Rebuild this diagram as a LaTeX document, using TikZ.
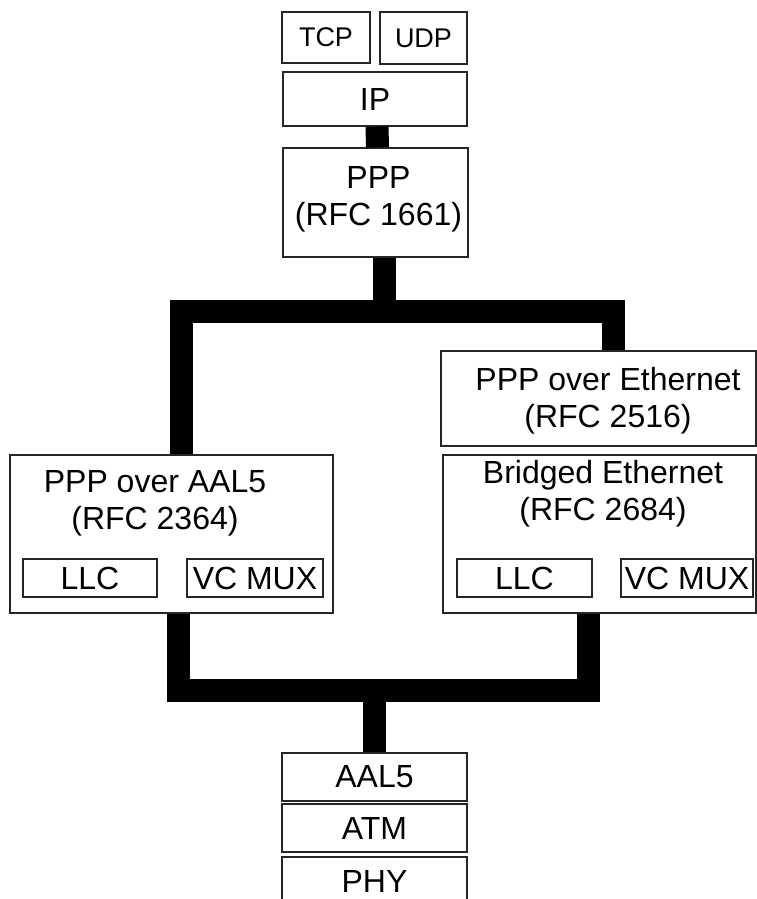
\documentclass[tikz,border=0pt]{standalone}
\usepackage{fontspec}
\setmainfont{Liberation Sans}
\tikzset{
	layer/.style={draw=black!85, line width=1.2pt, inner sep=0pt, align=center, font=\fontsize{32}{37}\selectfont},
	thin layer/.style={layer, font=\fontsize{27}{32}\selectfont},
	caption/.style={inner sep=0pt, align=center, font=\fontsize{32}{37}\selectfont},
	bus/.style={line width=23pt, line join=miter}
}
\begin{document}
\begin{tikzpicture}[x=1pt, y=-1pt]
	\useasboundingbox (0, 0) rectangle (757, 899);
	\node[thin layer, minimum width=88pt, minimum height=51pt] (tcp) at (326, 37.5) {TCP};
	\node[thin layer, minimum width=87pt, minimum height=52pt] (udp) at (423.5, 38) {UDP};
	\node[layer, minimum width=184pt, minimum height=54pt] (ip) at (375, 99) {IP};
	\node[layer, minimum width=185pt, minimum height=109pt] (ppp) at (375.5, 202.5) {};
	\node[caption] (ppptext) at (378.5, 199.5) {PPP\\(RFC 1661)};
	\node[layer, minimum width=315pt, minimum height=95pt] (pppoe) at (598.5, 398.5) {};
	\node[caption] (pppoetext) at (608, 400.5) {PPP over Ethernet\\(RFC 2516)};
	\node[layer, minimum width=323pt, minimum height=158pt] (pppoa) at (171.5, 534) {};
	\node[caption] (pppoatext) at (155, 503) {PPP over AAL5\\(RFC 2364)};
	\node[layer, minimum width=313pt, minimum height=158pt] (bridged) at (599.5, 534) {};
	\node[caption] (bridgedtext) at (603, 493.5) {Bridged Ethernet\\(RFC 2684)};
	\node[layer, minimum width=134pt, minimum height=38pt] (llcL) at (90, 578) {LLC};
	\node[layer, minimum width=136pt, minimum height=38pt] (vcmuxL) at (255, 578) {VC MUX};
	\node[layer, minimum width=135pt, minimum height=38pt] (llcR) at (524.5, 578) {LLC};
	\node[layer, minimum width=132pt, minimum height=38pt] (vcmuxR) at (687, 578) {VC MUX};
	\node[layer, minimum width=185pt, minimum height=48pt] (aal5) at (374.5, 777) {AAL5};
	\node[layer, minimum width=185pt, minimum height=48pt] (atm) at (374.5, 828) {ATM};
	\node[layer, minimum width=185pt, minimum height=48pt] (phy) at (374.5, 881) {PHY};
	\coordinate (upL) at (181.5, 311.5);
	\coordinate (upC) at (384, 311.5);
	\coordinate (upR) at (613, 311.5);
	\coordinate (dnL) at (178, 690.5);
	\coordinate (dnC) at (374, 690.5);
	\coordinate (dnR) at (588, 690.5);
	\draw[bus] ([xshift=2pt]ip.south) -- ([xshift=2pt]ppp.north);
	\draw[bus] (upC |- ppp.south) -- (upC);
	\draw[bus] (upL |- pppoa.north) -- (upL) -- (upR) -- (upR |- pppoe.north);
	\draw[bus] (dnL |- pppoa.south) -- (dnL) -- (dnR) -- (dnR |- bridged.south);
	\draw[bus] (dnC) -- (dnC |- aal5.north);
\end{tikzpicture}
\end{document}
